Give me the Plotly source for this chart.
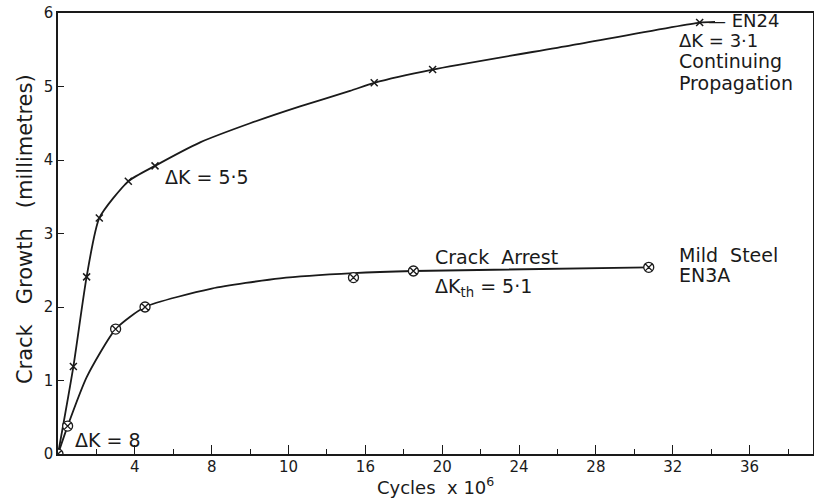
import plotly.graph_objects as go

# EN24 measured points (x = cycles x 10^6, y = crack growth mm)
en24_x = [0, 0.8, 1.49, 2.15, 3.66, 5.05, 16.46, 19.5, 33.4]
en24_y = [0, 1.19, 2.41, 3.21, 3.71, 3.92, 5.05, 5.23, 5.87]
# EN24 drawn curve
en24_curve_x = [0, 0.8, 1.49, 2.15, 3.66, 5.05, 7.4, 10.0, 12.6, 15.2, 16.46, 19.5, 26.7, 33.4, 34.2]
en24_curve_y = [0, 1.19, 2.41, 3.21, 3.71, 3.92, 4.24, 4.50, 4.73, 4.94, 5.05, 5.23, 5.56, 5.87, 5.88]

# Mild steel EN3A measured points
ms_x = [0, 0.5, 3.0, 4.53, 15.38, 18.5, 30.75]
ms_y = [0, 0.38, 1.70, 2.00, 2.40, 2.49, 2.54]
# Mild steel drawn curve
ms_curve_x = [0, 0.5, 1.5, 3.0, 4.53, 8.0, 11.56, 15.38, 18.5, 30.75]
ms_curve_y = [0, 0.38, 1.05, 1.70, 2.00, 2.25, 2.39, 2.46, 2.49, 2.54]

x_tickvals = [4, 8, 12, 16, 20, 24, 28, 32, 36]
x_ticktext = ["4", "8", "10", "16", "20", "24", "28", "32", "36"]
y_tickvals = [0, 1, 2, 3, 4, 5, 6]

FONT = "DejaVu Sans"
INK = "#1a1a1a"

fig = go.Figure()
fig.add_trace(go.Scatter(x=en24_curve_x, y=en24_curve_y, mode="lines",
                         line=dict(color=INK, width=1.8, shape="spline", smoothing=0.6),
                         hoverinfo="skip", showlegend=False))
fig.add_trace(go.Scatter(x=en24_x, y=en24_y, mode="markers",
                         marker=dict(symbol="x-thin", size=7, line=dict(color=INK, width=1.5)),
                         showlegend=False))
fig.add_trace(go.Scatter(x=ms_curve_x, y=ms_curve_y, mode="lines",
                         line=dict(color=INK, width=1.8, shape="spline", smoothing=0.6),
                         hoverinfo="skip", showlegend=False))
fig.add_trace(go.Scatter(x=ms_x, y=ms_y, mode="markers",
                         marker=dict(symbol="circle-x", size=10, color="white",
                                     line=dict(color=INK, width=1.3)),
                         showlegend=False))

def ann(text, x, y, size=19, xanchor="left"):
    fig.add_annotation(x=x, y=y, xref="x", yref="y", text=text, showarrow=False,
                       xanchor=xanchor, yanchor="middle",
                       font=dict(family=FONT, size=size, color=INK))

ann("ΔK = 5·5", 5.47, 3.77)
ann("— EN24", 33.75, 5.90, size=18)
ann("ΔK = 3·1", 32.24, 5.63, size=18)
ann("Continuing", 32.24, 5.35)
ann("Propagation", 32.24, 5.05)
ann("Crack  Arrest", 19.5, 2.68)
ann("ΔK<sub>th</sub> = 5·1", 19.5, 2.27)
ann("Mild  Steel", 32.24, 2.71)
ann("EN3A", 32.24, 2.44)
ann("ΔK = 8", 0.8, 0.19)

# axis titles, placed in paper coordinates
fig.add_annotation(x=0.5, y=-0.073, xref="paper", yref="paper",
                   text="Cycles  x 10<sup>6</sup>", showarrow=False,
                   xanchor="center", yanchor="middle",
                   font=dict(family=FONT, size=18, color=INK))
fig.add_annotation(x=-0.0437, y=0.51, xref="paper", yref="paper",
                   text="Crack   Growth   (millimetres)", showarrow=False, textangle=-90,
                   xanchor="center", yanchor="middle",
                   font=dict(family=FONT, size=21, color=INK))

fig.update_layout(
    width=814, height=498,
    margin=dict(l=58, r=1, t=13, b=44),
    paper_bgcolor="white", plot_bgcolor="white",
    font=dict(family=FONT, size=15, color=INK),
    xaxis=dict(range=[0, 39.3], tickvals=x_tickvals, ticktext=x_ticktext,
               ticks="inside", ticklen=9, tickwidth=1.3, tickcolor=INK,
               minor=dict(dtick=2, tick0=0, ticks="inside", ticklen=5, tickwidth=1.1, tickcolor=INK),
               showline=True, linecolor=INK, linewidth=1.6, mirror=True,
               showgrid=False, zeroline=False, automargin=False,
               tickfont=dict(size=15), ticklabelstandoff=-2),
    yaxis=dict(range=[0, 6], tickvals=y_tickvals,
               ticks="inside", ticklen=6, tickwidth=1.3, tickcolor=INK,
               showline=True, linecolor=INK, linewidth=1.6, mirror=True,
               showgrid=False, zeroline=False, automargin=False,
               tickfont=dict(size=15), ticklabelstandoff=0),
)

# remove the page's default body margin so the figure sits at the window's corner
fig.write_html("out.html", config={"displayModeBar": False},
               post_script="document.body.style.margin='0';")
